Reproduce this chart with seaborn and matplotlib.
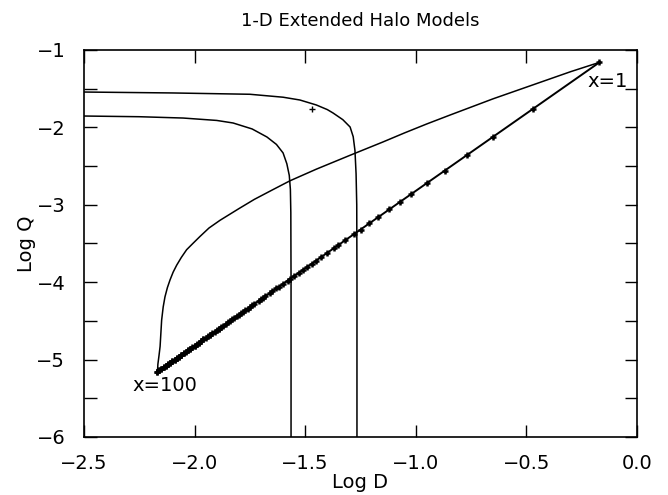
import matplotlib
matplotlib.use("Agg")
import matplotlib.pyplot as plt
import seaborn as sns
import numpy as np
from matplotlib.ticker import MultipleLocator, FuncFormatter

# Marker points along the straight track (x = 1 ... 100)
track_logD = [-0.17,-0.47,-0.65,-0.77,-0.87,-0.95,-1.02,-1.07,-1.12,-1.17,
              -1.21,-1.25,-1.28,-1.32,-1.35,-1.37,-1.40,-1.43,-1.45,-1.47,
              -1.49,-1.51,-1.53,-1.55,-1.57,-1.58,-1.60,-1.62,-1.63,-1.65,
              -1.66,-1.68,-1.69,-1.70,-1.71,-1.73,-1.74,-1.75,-1.76,-1.77,
              -1.78,-1.79,-1.80,-1.81,-1.82,-1.83,-1.84,-1.85,-1.86,-1.87,
              -1.88,-1.89,-1.89,-1.90,-1.91,-1.92,-1.93,-1.93,-1.94,-1.95,
              -1.96,-1.96,-1.97,-1.98,-1.98,-1.99,-2.00,-2.00,-2.01,-2.02,
              -2.02,-2.03,-2.03,-2.04,-2.05,-2.05,-2.06,-2.06,-2.07,-2.07,
              -2.08,-2.08,-2.09,-2.09,-2.10,-2.10,-2.11,-2.11,-2.12,-2.12,
              -2.13,-2.13,-2.14,-2.14,-2.15,-2.15,-2.16,-2.16,-2.17,-2.17]
track_logQ = [-1.16,-1.76,-2.12,-2.36,-2.56,-2.72,-2.86,-2.96,-3.06,-3.16,
              -3.24,-3.32,-3.38,-3.46,-3.52,-3.56,-3.62,-3.68,-3.72,-3.76,
              -3.80,-3.84,-3.88,-3.92,-3.96,-3.98,-4.02,-4.06,-4.08,-4.12,
              -4.14,-4.18,-4.20,-4.22,-4.24,-4.28,-4.30,-4.32,-4.34,-4.36,
              -4.38,-4.40,-4.42,-4.44,-4.46,-4.48,-4.50,-4.52,-4.54,-4.56,
              -4.58,-4.60,-4.60,-4.62,-4.64,-4.66,-4.68,-4.68,-4.70,-4.72,
              -4.74,-4.74,-4.76,-4.78,-4.78,-4.80,-4.82,-4.82,-4.84,-4.86,
              -4.86,-4.88,-4.88,-4.90,-4.92,-4.92,-4.94,-4.94,-4.96,-4.96,
              -4.98,-4.98,-5.00,-5.00,-5.02,-5.02,-5.04,-5.04,-5.06,-5.06,
              -5.08,-5.08,-5.10,-5.10,-5.12,-5.12,-5.14,-5.14,-5.16,-5.16]

# Upper (curved) track from x=100 back to x=1
arc_logD = [-2.168, -2.166, -2.161, -2.156, -2.149, -2.142, -2.134, -2.123, -2.111,
            -2.097, -2.081, -2.060, -2.036, -2.008, -1.976, -1.935, -1.885, -1.80,
            -1.73, -1.65, -1.569, -1.45, -1.297, -1.15, -1.05, -0.95, -0.845,
            -0.65, -0.470, -0.30, -0.17]
arc_logQ = [-5.17, -5.06, -4.95, -4.83, -4.49, -4.32, -4.19, -4.07, -3.97,
            -3.87, -3.78, -3.68, -3.58, -3.50, -3.41, -3.30, -3.20, -3.05,
            -2.93, -2.81, -2.69, -2.54, -2.36, -2.19, -2.07, -1.955, -1.84,
            -1.63, -1.45, -1.28, -1.16]

# Two L-shaped curves
L1_logD = [-2.5, -2.1, -1.75, -1.60, -1.524, -1.45, -1.40, -1.374, -1.33,
           -1.297, -1.283, -1.275, -1.270, -1.267, -1.266, -1.266]
L1_logQ = [-1.543, -1.555, -1.572, -1.61, -1.646, -1.71, -1.77, -1.814, -1.90,
           -1.995, -2.12, -2.30, -2.60, -3.00, -4.00, -6.00]
L2_logD = [-2.5, -2.25, -2.052, -1.90, -1.826, -1.74, -1.673, -1.63, -1.60,
           -1.583, -1.572, -1.567, -1.565, -1.564, -1.564]
L2_logQ = [-1.853, -1.862, -1.879, -1.91, -1.943, -2.02, -2.124, -2.22, -2.33,
           -2.47, -2.62, -2.80, -3.10, -4.00, -6.00]

extra_logD = [-1.469]
extra_logQ = [-1.762]

sns.set_theme(style="ticks")
plt.rcParams['font.family'] = ['DejaVu Sans']
plt.rcParams['axes.unicode_minus'] = True
for k in ['text.color', 'axes.labelcolor', 'xtick.color', 'ytick.color', 'axes.edgecolor']:
    plt.rcParams[k] = 'black'

fig = plt.figure(figsize=(6.68, 4.95), dpi=100)
ax = fig.add_axes([84/668, 1-437/495, (637-84)/668, (437-50)/495])

lw = 1.1
sns.lineplot(x=track_logD, y=track_logQ, sort=False, estimator=None, color='black', lw=1.4, ax=ax)
sns.scatterplot(x=track_logD, y=track_logQ, marker='+', s=22, color='black', linewidth=1.8, ax=ax)
sns.lineplot(x=arc_logD, y=arc_logQ, sort=False, estimator=None, color='black', lw=lw, ax=ax)
sns.lineplot(x=L1_logD, y=L1_logQ, sort=False, estimator=None, color='black', lw=lw, ax=ax)
sns.lineplot(x=L2_logD, y=L2_logQ, sort=False, estimator=None, color='black', lw=lw, ax=ax)
sns.scatterplot(x=extra_logD, y=extra_logQ, marker='+', s=22, color='black', linewidth=1.0, ax=ax)

ax.text(-0.222, -1.41, "x=1", fontsize=14, ha='left', va='center', color='black')
ax.text(-2.283, -5.33, "x=100", fontsize=14, ha='left', va='center', color='black')

ax.set_xlim(-2.5, 0.0)
ax.set_ylim(-6, -1)
ax.xaxis.set_major_locator(MultipleLocator(0.5))
ax.yaxis.set_major_locator(MultipleLocator(1))
ax.yaxis.set_minor_locator(MultipleLocator(0.5))
ax.xaxis.set_major_formatter(FuncFormatter(lambda v, p: f"{v:.1f}".replace('-', '\u2212')))
ax.yaxis.set_major_formatter(FuncFormatter(lambda v, p: f"{v:.0f}".replace('-', '\u2212')))
ax.tick_params(which='both', direction='in', top=True, right=True, length=9, width=1.0,
               labelsize=14, color='black', labelcolor='black')
ax.tick_params(axis='x', pad=12)
ax.tick_params(axis='y', pad=13.5)
for s in ax.spines.values():
    s.set_linewidth(1.2)
    s.set_color('black')

ax.set_title("1-D Extended Halo Models", fontsize=13, pad=17, color='black')
ax.set_xlabel("Log D", fontsize=14, labelpad=0, color='black')
ax.set_ylabel("Log Q", fontsize=14, labelpad=0, color='black')

fig.savefig("out.png", dpi=100)
